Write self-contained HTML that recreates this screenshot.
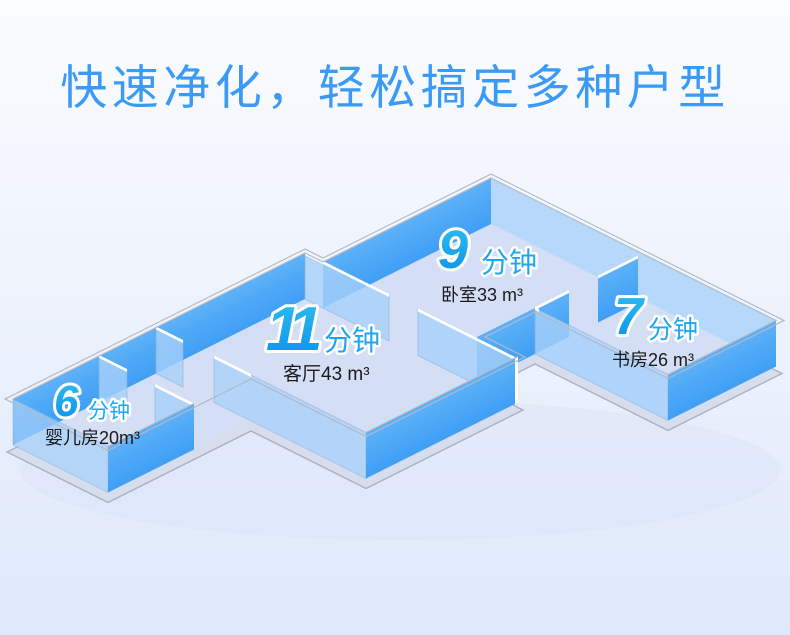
<!DOCTYPE html>
<html><head><meta charset="utf-8"><style>
html,body{margin:0;padding:0}
body{width:790px;height:635px;overflow:hidden;background:linear-gradient(#fbfcff 0%,#eef3fc 45%,#dfe9fb 100%);position:relative;font-family:"Liberation Sans","Noto Sans CJK SC",sans-serif}
.t{position:absolute;left:0;top:58px;width:790px;text-align:center;font-size:47px;letter-spacing:4.5px;color:#3b9af5;font-family:"Liberation Sans","Noto Sans CJK SC",sans-serif;line-height:60px}
svg{position:absolute;left:0;top:0}
</style></head><body>
<div class="t">快速净化，轻松搞定多种户型</div>
<svg width="790" height="635" viewBox="0 0 790 635">
<defs>
<linearGradient id="dk" x1="0" y1="0" x2="0" y2="1"><stop offset="0" stop-color="#3f9ff6"/><stop offset="1" stop-color="#5db1f7"/></linearGradient>
<linearGradient id="num" x1="0" y1="0" x2="0" y2="1"><stop offset="0" stop-color="#2fc0f0"/><stop offset="1" stop-color="#0a8fe8"/></linearGradient>
</defs>
<ellipse cx="400" cy="470" rx="380" ry="70" fill="#cfdcf3" opacity="0.25"/>
<g transform="matrix(1 0.5 1 -0.5 13 452)">
<polygon points="-3,-3 -3,295 15,295 15,463 306,463 306,349 173,349 173,297 213,297 213,140 98,140 98,-3" fill="#d6deee" stroke="#a9b0bf" stroke-width="1.5"/>
</g>
<g transform="matrix(1 0.5 1 -0.5 13 445)">
<polygon points="0,0 0,292 18,292 18,460 303,460 303,352 170,352 170,294 210,294 210,143 95,143 95,0" fill="#d4dff6"/>
</g>
<g transform="matrix(1 -0.5 0 -1 13 445)"><rect x="0" y="0" width="292" height="46" fill="url(#dk)"/></g>
<g transform="matrix(1 -0.5 0 -1 31 454)"><rect x="292" y="0" width="168" height="46" fill="url(#dk)"/></g>
<g transform="matrix(1 0.5 0 -1 473 215)"><rect x="18" y="0" width="285" height="46" fill="#a8d1fa" opacity="0.8"/></g>
<g transform="matrix(1 0.5 0 -1 305 299)"><rect x="0" y="0" width="84" height="46" fill="#a8d1fa" opacity="0.8" stroke="#8fb2d6" stroke-width="0.8"/><rect x="0" y="44" width="84" height="3" fill="#fff"/></g>
<g transform="matrix(1 0.5 0 -1 99 402)"><rect x="0" y="0" width="28" height="46" fill="#a8d1fa" opacity="0.8" stroke="#8fb2d6" stroke-width="0.8"/><rect x="0" y="44" width="28" height="3" fill="#fff"/></g>
<g transform="matrix(1 0.5 0 -1 156 373.5)"><rect x="0" y="0" width="27" height="46" fill="#a8d1fa" opacity="0.8" stroke="#8fb2d6" stroke-width="0.8"/><rect x="0" y="44" width="27" height="3" fill="#fff"/></g>
<g transform="matrix(1 0.5 0 -1 98 402.5)"><rect x="57" y="0" width="38" height="46" fill="#a8d1fa" opacity="0.8" stroke="#8fb2d6" stroke-width="0.8"/><rect x="57" y="44" width="38" height="3" fill="#fff"/></g>
<g transform="matrix(1 0.5 0 -1 156 373.5)"><rect x="58" y="0" width="152" height="46" fill="#a8d1fa" opacity="0.75" stroke="#8fb2d6" stroke-width="0.8"/><rect x="58" y="44" width="37" height="3" fill="#fff"/></g>
<g transform="matrix(1 -0.5 0 -1 183 530)"><rect x="294" y="0" width="58" height="46" fill="url(#dk)"/><rect x="352" y="0" width="34" height="46" fill="url(#dk)"/><rect x="415" y="0" width="40" height="46" fill="url(#dk)"/><rect x="352" y="44" width="34" height="3" fill="#fff"/><rect x="415" y="44" width="40" height="3" fill="#fff"/></g>
<g transform="matrix(1 0.5 0 -1 305 299)"><rect x="113" y="0" width="97" height="46" fill="#a8d1fa" opacity="0.8" stroke="#8fb2d6" stroke-width="0.8"/><rect x="113" y="44" width="97" height="3" fill="#fff"/></g>
<g transform="matrix(1 0.5 0 -1 365 269)"><rect x="170" y="0" width="133" height="46" fill="#a8d1fa" opacity="0.8" stroke="#8fb2d6" stroke-width="0.8"/><rect x="170" y="44" width="4" height="3" fill="#fff"/></g>
<g transform="matrix(1 0.5 0 -1 13 445)"><rect x="0" y="0" width="95" height="46" fill="#a8d1fa" opacity="0.7" stroke="#8fb2d6" stroke-width="0.8"/></g>
<g transform="matrix(1 -0.5 0 -1 108 492.5)"><rect x="0" y="0" width="86" height="46" fill="url(#dk)"/></g>
<g transform="matrix(1 -0.5 0 -1 223 550)"><rect x="143" y="0" width="151" height="46" fill="url(#dk)"/><rect x="292" y="0" width="3" height="46" fill="#fff"/></g>
<g transform="matrix(1 -0.5 0 -1 316 596.5)"><rect x="352" y="0" width="108" height="46" fill="url(#dk)"/></g>
<g transform="matrix(1 0.5 1 -0.5 13 399)" fill="none" stroke="#b4b9c6" stroke-width="1.3">
<polygon points="-4,-4 -4,296 14,296 14,464 307,464 307,348 174,348 174,298 214,298 214,139 99,139 99,-4"/>
<polyline points="0,0 0,292 18,292 18,460 303,460 303,352"/>
<polyline points="95,0 95,86"/><polyline points="210,143 210,294"/>
</g>
<g font-family="Liberation Sans,sans-serif" font-style="italic" font-weight="bold" fill="url(#num)" stroke="#fff" stroke-width="6" paint-order="stroke" stroke-linejoin="round">
<text x="54" y="416" font-size="44">6</text>
<text x="266" y="350" font-size="62" letter-spacing="-8">11</text>
<text x="438" y="268" font-size="54">9</text>
<text x="614" y="334" font-size="52">7</text>
</g>
<g font-family="Liberation Sans,Noto Sans CJK SC,sans-serif" fill="#1ea7f0" stroke="#fff" stroke-width="5" paint-order="stroke" stroke-linejoin="round">
<text x="88" y="418" font-size="21">分钟</text>
<text x="324" y="350" font-size="28">分钟</text>
<text x="481" y="272" font-size="28">分钟</text>
<text x="648" y="338" font-size="25">分钟</text>
</g>
<g font-family="Liberation Sans,Noto Sans CJK SC,sans-serif" fill="#1a1a1a">
<text x="45" y="444" font-size="18">婴儿房20m³</text>
<text x="283" y="380" font-size="19">客厅43 m³</text>
<text x="441" y="301" font-size="18">卧室33 m³</text>
<text x="612" y="366" font-size="18">书房26 m³</text>
</g>
</svg>
</body></html>
